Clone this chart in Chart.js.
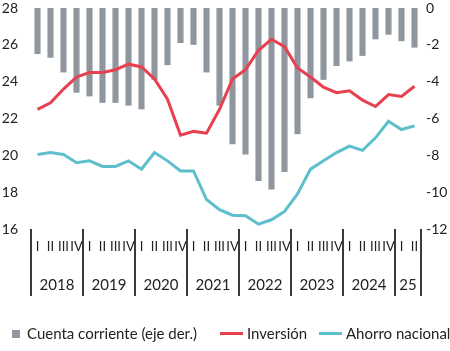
<!DOCTYPE html>
<html>
<head>
<meta charset="utf-8">
<script src="https://cdn.jsdelivr.net/npm/chart.js@4"></script>
<style>
  html, body { margin: 0; padding: 0; background: #fff; overflow: hidden; }
  #wrap { position: relative; width: 450px; height: 351px; font-family: Lato, "Open Sans", sans-serif; }
  .item { position: absolute; top: 324px; height: 18px; display: flex; align-items: center; font-size: 15px; color: #222; white-space: nowrap; }
  .sq { width: 8px; height: 8px; margin-right: 7px; margin-top: 1px; }
  .ln { width: 23px; height: 3px; margin-right: 4px; margin-top: 1px; }
</style>
</head>
<body>
<div id="wrap">
  <canvas id="c" width="450" height="351"></canvas>
  <div id="legend"></div>
</div>
<script>
// ---- Data ----
const quarters = ['I','II','III','IV','I','II','III','IV','I','II','III','IV','I','II','III','IV',
                  'I','II','III','IV','I','II','III','IV','I','II','III','IV','I','II'];
const years = ['2018','2019','2020','2021','2022','2023','2024','25'];
const cuentaCorriente = [-2.5,-2.7,-3.5,-4.6,-4.8,-5.15,-5.15,-5.3,-5.5,-3.9,-3.1,-1.9,-2.0,-3.5,-5.3,
                         -7.4,-7.95,-9.4,-9.85,-8.9,-6.85,-4.9,-3.9,-3.15,-2.9,-2.6,-1.7,-1.45,-1.8,-2.15];
const inversion = [22.5,22.85,23.6,24.25,24.5,24.5,24.65,24.95,24.8,24.15,23.05,21.1,21.3,21.2,22.5,
                   24.15,24.65,25.7,26.3,25.9,24.75,24.25,23.7,23.4,23.5,23.0,22.65,23.3,23.2,23.75];
const ahorroNacional = [20.05,20.15,20.05,19.6,19.7,19.4,19.4,19.7,19.25,20.15,19.7,19.15,19.15,17.6,17.05,
                        16.75,16.72,16.26,16.5,16.95,17.9,19.25,19.7,20.15,20.5,20.27,20.95,21.85,21.4,21.6];
const leftTicks = [16, 28, 2];   // min, max, step
const rightTicks = [-12, 0, 2];
const seriesNames = ['Cuenta corriente (eje der.)', 'Inversión', 'Ahorro nacional'];
const colors = ['#8f969e', '#e8404f', '#5dbfcc'];

Chart.defaults.font.family = 'Lato, "Open Sans", sans-serif';
Chart.defaults.color = '#222';

const yearPlugin = {
  id: 'years',
  afterDraw(chart) {
    const xs = chart.scales.x;
    const ctx = chart.ctx;
    const area = chart.chartArea;
    const half = (xs.getPixelForValue(1) - xs.getPixelForValue(0)) / 2;
    ctx.save();
    ctx.strokeStyle = '#3a3a3a';
    ctx.lineWidth = 2;
    const bounds = [];
    let idx = 0;
    years.forEach((y, i) => {
      const n = (i === years.length - 1) ? quarters.length - idx : 4;
      bounds.push(idx);
      const left = xs.getPixelForValue(idx) - half;
      const right = xs.getPixelForValue(idx + n - 1) + half;
      ctx.fillStyle = '#222';
      ctx.font = '15px Lato, "Open Sans", sans-serif';
      ctx.textAlign = 'center';
      ctx.textBaseline = 'middle';
      ctx.fillText(y, (left + right) / 2, area.bottom + 56);
      idx += n;
    });
    bounds.push(idx);
    bounds.forEach(b => {
      const px = b < quarters.length ? xs.getPixelForValue(b) - half : xs.getPixelForValue(b - 1) + half;
      ctx.beginPath();
      ctx.moveTo(Math.round(px), area.bottom);
      ctx.lineTo(Math.round(px), area.bottom + 67);
      ctx.stroke();
    });
    ctx.restore();
  }
};

const chart = new Chart(document.getElementById('c'), {
  type: 'bar',
  data: {
    labels: quarters,
    datasets: [
      { type: 'bar', label: seriesNames[0], data: cuentaCorriente, yAxisID: 'y2',
        backgroundColor: colors[0], barPercentage: 0.47, categoryPercentage: 1, order: 3 },
      { type: 'line', label: seriesNames[1], data: inversion, yAxisID: 'y',
        borderColor: colors[1], borderWidth: 3, pointRadius: 0, tension: 0, fill: false, order: 1 },
      { type: 'line', label: seriesNames[2], data: ahorroNacional, yAxisID: 'y',
        borderColor: colors[2], borderWidth: 3, pointRadius: 0, tension: 0, fill: false, order: 2 }
    ]
  },
  options: {
    responsive: false,
    animation: false,
    layout: { padding: { top: 4, left: 0, right: 0, bottom: 0 } },
    plugins: { legend: { display: false }, tooltip: { enabled: false } },
    scales: {
      x: {
        offset: true,
        grid: { display: false, drawTicks: false },
        border: { display: false },
        ticks: { autoSkip: false, maxRotation: 0, padding: 10, font: { size: 13 }, color: '#222' },
        afterFit(s) { s.height = 122; }
      },
      y: {
        position: 'left',
        min: leftTicks[0], max: leftTicks[1],
        grid: { display: false, drawTicks: false },
        border: { display: false },
        ticks: { stepSize: leftTicks[2], padding: 13, font: { size: 14 }, color: '#222' },
        afterFit(s) { s.width = 31; s.paddingTop = 8; s.paddingBottom = 8; }
      },
      y2: {
        position: 'right',
        min: rightTicks[0], max: rightTicks[1],
        grid: { display: false, drawTicks: false },
        border: { display: false },
        ticks: { stepSize: rightTicks[2], padding: 5, font: { size: 14 }, color: '#222' },
        afterFit(s) { s.width = 29; s.paddingTop = 8; s.paddingBottom = 8; }
      }
    }
  },
  plugins: [yearPlugin]
});

// HTML legend built from the series names/colours
const lg = document.getElementById('legend');
const lefts = [12, 220, 319];
seriesNames.forEach((name, i) => {
  const it = document.createElement('div');
  it.className = 'item';
  it.style.left = lefts[i] + 'px';
  const mk = document.createElement('div');
  mk.className = i === 0 ? 'sq' : 'ln';
  mk.style.background = colors[i];
  const tx = document.createElement('span');
  tx.textContent = name;
  it.appendChild(mk); it.appendChild(tx);
  lg.appendChild(it);
});
</script>
</body>
</html>
